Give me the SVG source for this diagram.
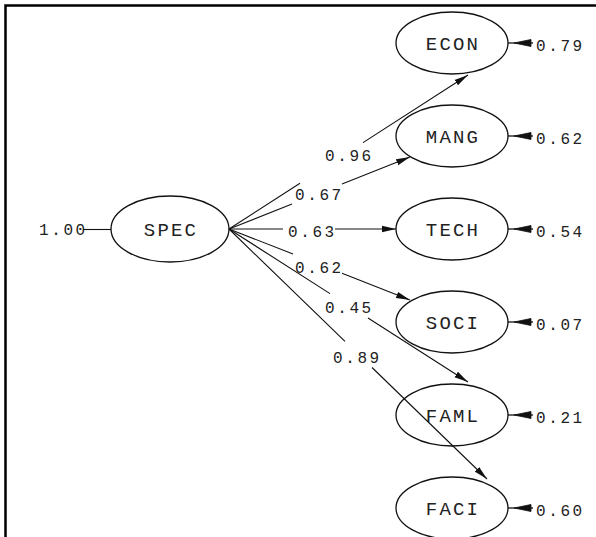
<svg xmlns="http://www.w3.org/2000/svg" width="596" height="537" viewBox="0 0 596 537">
<style>
.bg{fill:#ffffff}
.frame{fill:none;stroke:#000;stroke-width:2.5}
.node ellipse{fill:none;stroke:#111;stroke-width:1.3}
.lbl{font-family:"Liberation Mono","DejaVu Sans Mono",monospace;font-size:19px;letter-spacing:2.2px;fill:#222;text-anchor:middle}
.num{font-family:"Liberation Mono","DejaVu Sans Mono",monospace;font-size:16px;letter-spacing:2.6px;fill:#222}
.edge{fill:none;stroke:#111;stroke-width:1.1}
.err{fill:none;stroke:#111;stroke-width:1.3}
.errhead{fill:#111;stroke:#111;stroke-width:0.8}
</style>
<defs>
<marker id="arr" viewBox="0 0 14 8" refX="14" refY="4" markerWidth="14" markerHeight="8" markerUnits="userSpaceOnUse" orient="auto">
<path d="M0,0.8 L14,4 L0,7.2 z" fill="#111"/>
</marker>
</defs>
<rect class="bg" x="0" y="0" width="596" height="537"/>
<path class="frame" d="M5.5,540 L5.5,5.5 L600,5.5"/>

<g id="SPEC" class="node">
<ellipse cx="170" cy="229" rx="59" ry="33"/>
<text class="lbl" x="171" y="235.5">SPEC</text>
</g>
<g id="ECON" class="node">
<ellipse cx="452" cy="43" rx="56" ry="31"/>
<text class="lbl" x="453" y="49.5">ECON</text>
</g>
<g id="MANG" class="node">
<ellipse cx="452" cy="136" rx="56" ry="31"/>
<text class="lbl" x="453" y="142.5">MANG</text>
</g>
<g id="TECH" class="node">
<ellipse cx="452" cy="229" rx="56" ry="31"/>
<text class="lbl" x="453" y="235.5">TECH</text>
</g>
<g id="SOCI" class="node">
<ellipse cx="452" cy="322" rx="56" ry="31"/>
<text class="lbl" x="453" y="328.5">SOCI</text>
</g>
<g id="FAML" class="node">
<ellipse cx="452" cy="415" rx="56" ry="31"/>
<text class="lbl" x="453" y="421.5">FAML</text>
</g>
<g id="FACI" class="node">
<ellipse cx="452" cy="508" rx="56" ry="31"/>
<text class="lbl" x="453" y="514.5">FACI</text>
</g>

<g id="connectors">
<line class="edge" x1="83" y1="229.5" x2="111" y2="229.5"/>
<text class="num" x="39" y="235">1.00</text>

<path class="edge" d="M229,229 L300,183.2 M363,142.6 L468,75" marker-end="url(#arr)"/>
<text class="num" x="325" y="160.5">0.96</text>

<path class="edge" d="M229,229 L292,204 M342,184 L410,157" marker-end="url(#arr)"/>
<text class="num" x="295" y="200">0.67</text>

<path class="edge" d="M229,229 L283,229 M335,229 L396,229" marker-end="url(#arr)"/>
<text class="num" x="288" y="236.5">0.63</text>

<path class="edge" d="M229,229 L293,254 M342,273.3 L410,300" marker-end="url(#arr)"/>
<text class="num" x="295" y="273">0.62</text>

<path class="edge" d="M229,229 L330,293.6 M368,318 L468,382" marker-end="url(#arr)"/>
<text class="num" x="325" y="313">0.45</text>

<path class="edge" d="M229,229 L345,341.4 M372,367.5 L487,479" marker-end="url(#arr)"/>
<text class="num" x="333" y="363">0.89</text>

<g id="err-ECON">
<line class="err" x1="508" y1="43" x2="533" y2="43"/>
<polygon class="errhead" points="514,43 531,39.5 531,46.5"/>
<text class="num" x="536" y="50.5">0.79</text>
</g>
<g id="err-MANG">
<line class="err" x1="508" y1="136" x2="533" y2="136"/>
<polygon class="errhead" points="514,136 531,132.5 531,139.5"/>
<text class="num" x="536" y="143.5">0.62</text>
</g>
<g id="err-TECH">
<line class="err" x1="508" y1="229" x2="533" y2="229"/>
<polygon class="errhead" points="514,229 531,225.5 531,232.5"/>
<text class="num" x="536" y="236.5">0.54</text>
</g>
<g id="err-SOCI">
<line class="err" x1="508" y1="322" x2="533" y2="322"/>
<polygon class="errhead" points="514,322 531,318.5 531,325.5"/>
<text class="num" x="536" y="329.5">0.07</text>
</g>
<g id="err-FAML">
<line class="err" x1="508" y1="415" x2="533" y2="415"/>
<polygon class="errhead" points="514,415 531,411.5 531,418.5"/>
<text class="num" x="536" y="422.5">0.21</text>
</g>
<g id="err-FACI">
<line class="err" x1="508" y1="508" x2="533" y2="508"/>
<polygon class="errhead" points="514,508 531,504.5 531,511.5"/>
<text class="num" x="536" y="515.5">0.60</text>
</g>
</g>
</svg>
